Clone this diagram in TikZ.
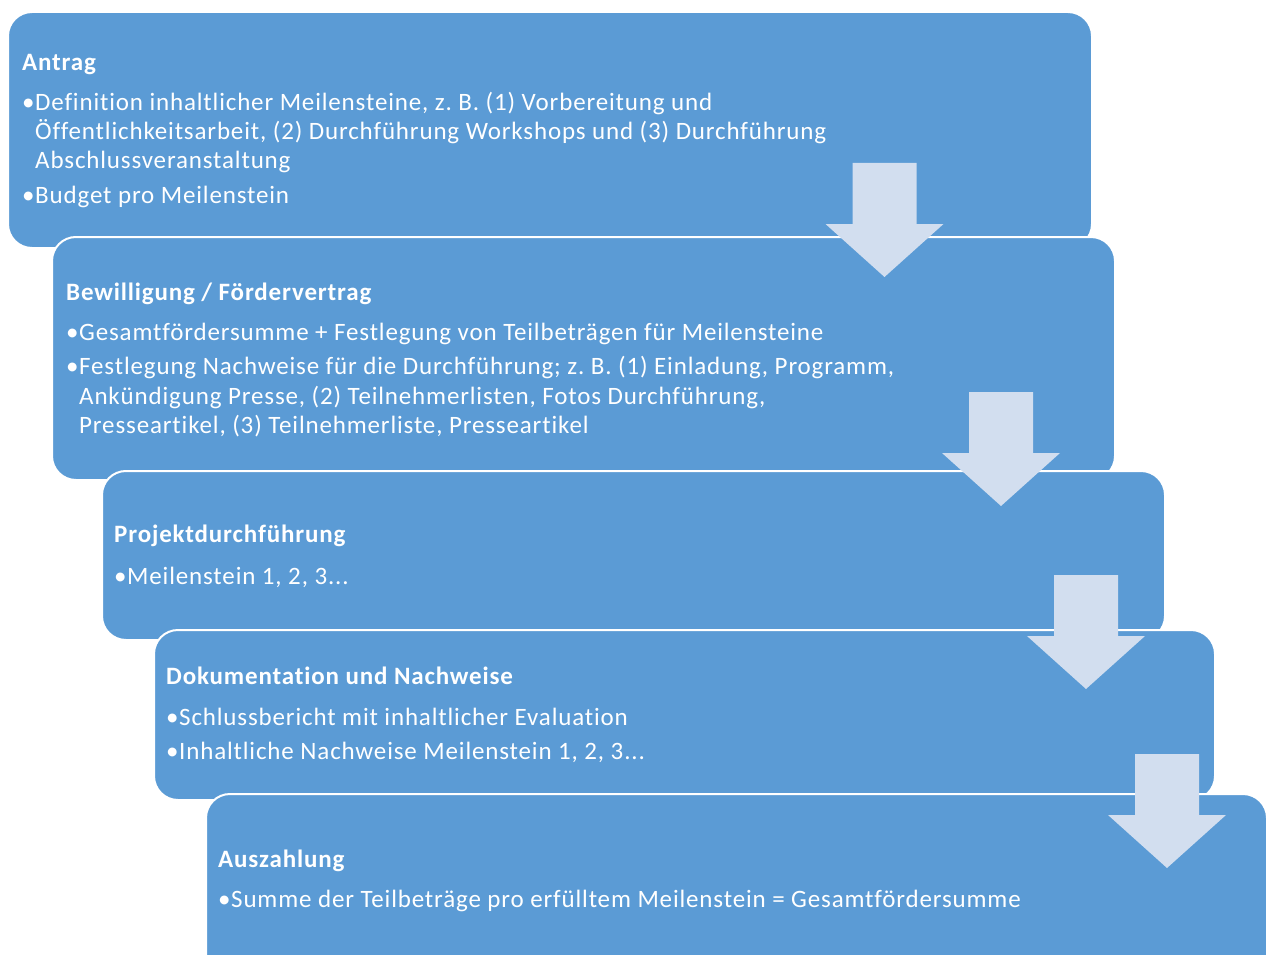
\documentclass[tikz,border=0pt]{standalone}
\usepackage{fontspec}
\setmainfont[Ligatures=NoCommon,LetterSpace=3.4]{Carlito}
\usepackage{tikz}
\frenchspacing

\definecolor{stepblue}{RGB}{91,155,213}
\definecolor{arrowpale}{RGB}{210,222,239}

\begin{document}
\begin{tikzpicture}[x=1pt,y=-1pt,
  box/.style={rectangle,draw=white,line width=2pt,fill=stepblue,rounded corners=24pt,anchor=north west,inner sep=0pt},
  head/.style={anchor=base west,inner sep=0pt,text=white,font=\fontsize{25}{30}\selectfont\bfseries},
  item/.style={anchor=base west,inner sep=0pt,text=white,font=\fontsize{25}{30}\selectfont},
  pics/fallarrow/.style={code={\fill[arrowpale] (-32,0) -- (32,0) -- (32,61) -- (59,61) -- (0,114) -- (-59,61) -- (-32,61) -- cycle;}}]

\useasboundingbox (0,0) rectangle (1267,955);

% the five steps, each one laid over the one before
\node (Antrag) at (7,11) [box,minimum width=1084,minimum height=236] {};
\node (Bewilligung) at (51,236) [box,minimum width=1063,minimum height=243] {};
\node (Durchfuehrung) at (101,470) [box,minimum width=1063,minimum height=169] {};
\node (Doku) at (153,629) [box,minimum width=1061,minimum height=170] {};
\node (Auszahlung) at (205,793) [box,minimum width=1061,minimum height=192] {};

% Antrag
\node (AntragHead) at (22,71) [head] {Antrag};
\node (AntragDotA) at (22,111) [item] {•};
\node (AntragA1) at (35,111) [item] {Definition inhaltlicher Meilensteine, z. B. (1) Vorbereitung und};
\node (AntragA2) at (35,140) [item] {Öffentlichkeitsarbeit, (2) Durchführung Workshops und (3) Durchführung};
\node (AntragA3) at (35,169) [item] {Abschlussveranstaltung};
\node (AntragDotB) at (22,204) [item] {•};
\node (AntragB1) at (35,204) [item] {Budget pro Meilenstein};

% Bewilligung
\node (BewHead) at (66,300) [head] {Bewilligung / Fördervertrag};
\node (BewDotA) at (66,340) [item] {•};
\node (BewA1) at (79,340) [item] {Gesamtfördersumme + Festlegung von Teilbeträgen für Meilensteine};
\node (BewDotB) at (66,374) [item] {•};
\node (BewB1) at (79,374) [item] {Festlegung Nachweise für die Durchführung; z. B. (1) Einladung, Programm,};
\node (BewB2) at (79,404) [item] {Ankündigung Presse, (2) Teilnehmerlisten, Fotos Durchführung,};
\node (BewB3) at (79,433) [item] {Presseartikel, (3) Teilnehmerliste, Presseartikel};

% Projektdurchfuehrung
\node (DurchHead) at (114,542) [head] {Projektdurchführung};
\node (DurchDotA) at (114,584) [item] {•};
\node (DurchA1) at (127,584) [item] {Meilenstein 1, 2, 3...};

% Dokumentation
\node (DokuHead) at (166,684) [head] {Dokumentation und Nachweise};
\node (DokuDotA) at (166,725) [item] {•};
\node (DokuA1) at (179,725) [item] {Schlussbericht mit inhaltlicher Evaluation};
\node (DokuDotB) at (166,759) [item] {•};
\node (DokuB1) at (179,759) [item] {Inhaltliche Nachweise Meilenstein 1, 2, 3...};

% Auszahlung
\node (AusHead) at (218,867) [head] {Auszahlung};
\node (AusDotA) at (218,907) [item] {•};
\node (AusA1) at (231,907) [item] {Summe der Teilbeträge pro erfülltem Meilenstein = Gesamtfördersumme};

% arrows between the steps
\pic at (884.5,163) {fallarrow};
\pic at (1001,392) {fallarrow};
\pic at (1086,575) {fallarrow};
\pic at (1167,754) {fallarrow};

\end{tikzpicture}
\end{document}
